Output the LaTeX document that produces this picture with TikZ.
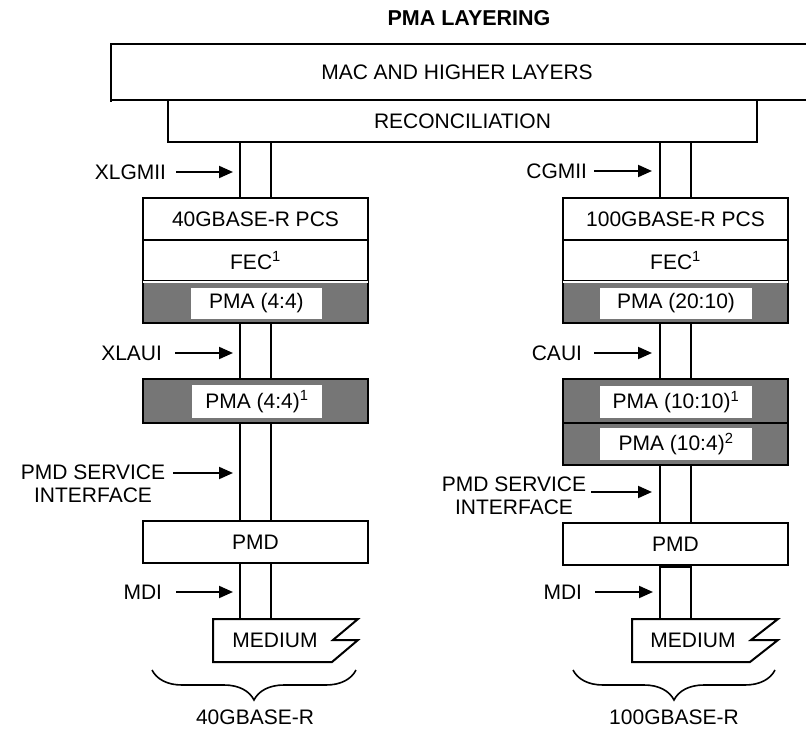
\documentclass[tikz,border=0pt]{standalone}
\usepackage{fontspec}
\setmainfont{Liberation Sans}
\usetikzlibrary{arrows.meta,calc,decorations.pathreplacing}
\definecolor{pmagray}{RGB}{118,118,118}
\newcommand\lblfont{\fontsize{21}{23}\selectfont}
% two parallel lines joining the lower side of #1 to the upper side of #2
\newcommand\pipepair[2]{%
  \draw ($(#2.north |- #1.south)+(-15.5,0)$) -- ($(#2.north)+(-15.5,0)$);
  \draw ($(#2.north |- #1.south)+(15.5,0)$) -- ($(#2.north)+(15.5,0)$);}
\begin{document}
\begin{tikzpicture}[x=1pt,y=-1pt,line width=2pt,font=\lblfont,
  lay/.style={draw,inner sep=0pt,minimum width=225pt},
  shaded/.style={lay,fill=pmagray},
  inset/.style={fill=white,inner sep=0pt},
  arr/.style={-{Triangle[length=14pt,width=12pt]}},
  lbl/.style={anchor=east,inner sep=0pt}]
\useasboundingbox (0,0) rectangle (806,730);

\node (title) at (469,18) {\fontsize{21.5}{24}\selectfont\bfseries PMA LAYERING};

% top layers
\node (mac) at (457,72) {MAC AND HIGHER LAYERS};
\draw (806,44) -- (111,44) -- (111,102);
\draw (111,100) -- (806,100);
\node[lay,minimum width=589pt,minimum height=42pt] (recon) at (462.5,121) {RECONCILIATION};

% 40GBASE-R stack
\node[lay,minimum height=42pt] (pcsL) at (255.5,219) {40GBASE-R PCS};
\node[lay,minimum height=41pt] (fecL) at (255.5,260.5) {FEC\textsuperscript{1}};
\node[shaded,minimum height=42pt] (pmaL) at (255.5,302) {};
\draw[white,line width=1.4pt] ([xshift=1pt,yshift=-1.8pt]pmaL.north west) -- ([xshift=-1pt,yshift=-1.8pt]pmaL.north east);
\node[inset,minimum width=131pt,minimum height=31pt] (pmaLt) at (256.5,303.5) {PMA (4:4)};
\node[shaded,minimum height=44pt] (pmaXL) at (255.5,401) {};
\node[inset,minimum width=130pt,minimum height=33pt] (pmaXLt) at (257,401.5) {PMA (4:4)\textsuperscript{1}};
\node[lay,minimum height=42pt] (pmdL) at (255.5,542) {PMD};
\coordinate (medL) at (255.5,619);
\draw (213,619) -- (358,619) -- (333,640) -- (358,640) -- (332,662) -- (213,662) -- cycle;
\node (mediumL) at (275,640) {MEDIUM};

\pipepair{recon}{pcsL}
\pipepair{pmaL}{pmaXL}
\pipepair{pmaXL}{pmdL}
\draw ($(pmdL.south)+(-15.5,0)$) -- ($(medL)+(-15.5,0)$);
\draw ($(pmdL.south)+(15.5,0)$) -- ($(medL)+(15.5,0)$);

% 100GBASE-R stack
\node[lay,minimum height=42pt] (pcsR) at (675.5,219) {100GBASE-R PCS};
\node[lay,minimum height=41pt] (fecR) at (675.5,260.5) {FEC\textsuperscript{1}};
\node[shaded,minimum height=42pt] (pmaR) at (675.5,302) {};
\draw[white,line width=1.4pt] ([xshift=1pt,yshift=-1.8pt]pmaR.north west) -- ([xshift=-1pt,yshift=-1.8pt]pmaR.north east);
\node[inset,minimum width=152pt,minimum height=31pt] (pmaRt) at (676,303.5) {PMA (20:10)};
\node[shaded,minimum height=44pt] (pmaCR) at (675.5,401) {};
\node[inset,minimum width=152pt,minimum height=32pt] (pmaCRt) at (676,402) {PMA (10:10)\textsuperscript{1}};
\node[shaded,minimum height=42pt] (pmaDR) at (675.5,444) {};
\node[inset,minimum width=152pt,minimum height=32pt] (pmaDRt) at (676,444) {PMA (10:4)\textsuperscript{2}};
\node[lay,minimum height=42pt] (pmdR) at (675.5,544) {PMD};
\coordinate (medR) at (675.5,619);
\draw (632,619) -- (778,619) -- (751,640) -- (778,640) -- (750,662) -- (632,662) -- cycle;
\node (mediumR) at (693,640) {MEDIUM};

\pipepair{recon}{pcsR}
\pipepair{pmaR}{pmaCR}
\pipepair{pmaDR}{pmdR}
\draw ($(pmdR.south)+(-15.5,0)$) -- ($(medR)+(-15.5,0)$);
\draw ($(pmdR.south)+(15.5,0)$) -- ($(medR)+(15.5,0)$);
\draw[line width=4pt] ($(pmdR.south)+(-15.5,0)$) -- ($(pmdR.south)+(15.5,0)$);

% interface labels, left
\node[lbl] (xlgmii) at (167,172) {XLGMII};
\coordinate (xlgmiiT) at (233,172);
\draw[arr] (xlgmii.east) ++(9,0) -- (xlgmiiT);
\node[lbl] (xlaui) at (163,353) {XLAUI};
\coordinate (xlauiT) at (233,353);
\draw[arr] (xlaui.east) ++(12,0) -- (xlauiT);
\node[align=center,inner sep=0pt] (pmdsiL) at (93,484) {PMD SERVICE\\INTERFACE};
\coordinate (pmdsiLT) at (233,473);
\draw[arr] ($(pmdsiL.east |- pmdsiLT)+(7,0)$) -- (pmdsiLT);
\node[lbl] (mdiL) at (163,592) {MDI};
\coordinate (mdiLT) at (233,592);
\draw[arr] (mdiL.east) ++(13,0) -- (mdiLT);

% interface labels, right
\node[lbl] (cgmii) at (588,171) {CGMII};
\coordinate (cgmiiT) at (652,171);
\draw[arr] (cgmii.east) ++(6,0) -- (cgmiiT);
\node[lbl] (caui) at (583,353) {CAUI};
\coordinate (cauiT) at (652,353);
\draw[arr] (caui.east) ++(11,0) -- (cauiT);
\node[align=center,inner sep=0pt] (pmdsiR) at (514,495.5) {PMD SERVICE\\INTERFACE};
\coordinate (pmdsiRT) at (652,492);
\draw[arr] ($(pmdsiR.east |- pmdsiRT)+(4,0)$) -- (pmdsiRT);
\node[lbl] (mdiR) at (583,592) {MDI};
\coordinate (mdiRT) at (653,592);
\draw[arr] (mdiR.east) ++(12,0) -- (mdiRT);

% braces
\draw[line width=1.6pt,decorate,decoration={brace,mirror,amplitude=30pt,aspect=0.5}] (152,670) -- (356,670);
\node[inner sep=0pt] (fortyG) at (255,717) {40GBASE-R};
\draw[line width=1.6pt,decorate,decoration={brace,mirror,amplitude=30pt,aspect=0.5}] (573,670) -- (775,670);
\node[inner sep=0pt] (hundredG) at (674,717) {100GBASE-R};
\end{tikzpicture}
\end{document}
